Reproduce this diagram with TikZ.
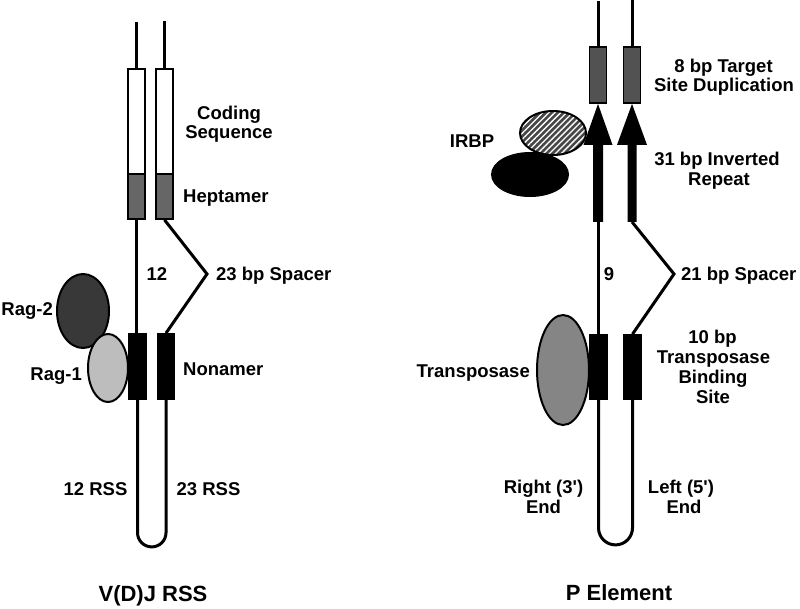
\documentclass[tikz,border=0pt]{standalone}
\usepackage{fontspec}
\setmainfont{Liberation Sans}
\usetikzlibrary{shapes.geometric,patterns.meta}
\definecolor{hept}{gray}{0.40}
\definecolor{tsd}{gray}{0.32}
\definecolor{ragtwo}{gray}{0.22}
\definecolor{ragone}{gray}{0.74}
\definecolor{transp}{gray}{0.52}
\definecolor{irbp}{gray}{0.28}
\begin{document}
\begin{tikzpicture}[x=1pt,y=-1pt,
  strand/.style={line width=3pt},
  seg/.style={draw, line width=1.8pt, inner sep=0pt, minimum width=17pt},
  lbl/.style={font=\bfseries\fontsize{18.5}{20}\selectfont, inner sep=0pt, anchor=base},
  ttl/.style={font=\bfseries\fontsize{22}{24}\selectfont, inner sep=0pt, anchor=base},
  prot/.style={draw, ellipse, line width=2pt, inner sep=0pt},
]
\useasboundingbox[fill=white] (0,0) rectangle (800,608);

% ---------------- V(D)J RSS ----------------
\node[seg, fill=white, minimum height=105pt] (cL) at (136.5,121.5) {};
\node[seg, fill=hept, minimum height=45pt] (hL) at (136.5,196.5) {};
\node[seg, fill=white, minimum height=105pt] (cR) at (164.5,121.5) {};
\node[seg, fill=hept, minimum height=45pt] (hR) at (164.5,196.5) {};
\node[seg, fill=black, minimum height=65pt] (nL) at (137.5,366.5) {};
\node[seg, fill=black, minimum height=65pt] (nR) at (166,366.5) {};
\path (cL.north) ++(0,-46) coordinate (tL);
\path (cR.north) ++(0,-47) coordinate (tR);
\coordinate (sp1) at (207,274);

\draw[strand] (tL) -- (cL.north);
\draw[strand] (tR) -- (cR.north);
\draw[strand] (hL.south) -- (hL.south |- nL.north);
\draw[strand] (hR.south) -- (sp1) -- (nR.north);
\draw[strand] (nL.south) -- ++(0,132.75) arc(180:0:14.25) -- (nR.south);

\node[seg, fill=white, minimum height=105pt] at (cL) {};
\node[seg, fill=hept, minimum height=45pt] at (hL) {};
\node[seg, fill=white, minimum height=105pt] at (cR) {};
\node[seg, fill=hept, minimum height=45pt] at (hR) {};

\node[prot, fill=ragtwo, minimum width=52pt, minimum height=74pt] (rag2) at (83,311) {};
\node[prot, fill=ragone, minimum width=40pt, minimum height=68pt] (rag1) at (108,368) {};

\node[lbl] (lcs1) at (229,119) {Coding};
\node[lbl] (lcs2) at (229,138) {Sequence};
\node[lbl, anchor=base west] (lhep) at (183,202) {Heptamer};
\node[lbl] (l12) at (157,280) {12};
\node[lbl, anchor=base west] (lsp23) at (216,280) {23 bp Spacer};
\node[lbl, anchor=base west] (lnon) at (183,375) {Nonamer};
\node[lbl, anchor=base east] (lrag2) at (53,315) {Rag-2};
\node[lbl, anchor=base east] (lrag1) at (82,380) {Rag-1};
\node[lbl] (l12rss) at (95.5,495) {12 RSS};
\node[lbl] (l23rss) at (208.5,495) {23 RSS};
\node[ttl] (tvdj) at (153,601) {V(D)J RSS};

% ---------------- P Element ----------------
\node[seg, fill=tsd, minimum height=56pt] (dL) at (598,75) {};
\node[seg, fill=tsd, minimum height=56pt] (dR) at (632,75) {};
\node[seg, fill=black, minimum height=64pt] (bL) at (598.5,367) {};
\node[seg, fill=black, minimum height=64pt] (bR) at (632.5,367) {};
\path (dL.north) ++(0,-45) coordinate (tL2);
\path (dR.north) ++(0,-47) coordinate (tR2);
\path (dL.south) ++(0,118) coordinate (aL);
\path (dR.south) ++(0,118) coordinate (aR);
\coordinate (sp2) at (674,274);

\draw[strand] (tL2) -- (dL.north);
\draw[strand] (tR2) -- (dR.north);
\draw[strand] (aL) -- (aL |- bL.north);
\draw[strand] (aR) -- (sp2) -- (bR.north);
\draw[strand] (bL.south) -- ++(0,128) arc(180:0:17) -- (bR.south);

\node[prot, preaction={fill=irbp}, pattern={Lines[angle=45,distance=4.2pt,line width=1.3pt]}, pattern color=white,
      minimum width=66pt, minimum height=44pt] (irbp) at (553,133) {};
\node[prot, fill=black, minimum width=76pt, minimum height=43pt] (blk) at (530,174.5) {};
\node[prot, fill=transp, minimum width=52pt, minimum height=110pt] (trp) at (563,370) {};

\fill (dL.south) -- ++(14.5,41) -- ++(-9.5,0) -- ++(0,77) -- ++(-10,0) -- ++(0,-77) -- ++(-9.5,0) -- cycle;
\fill (dR.south) -- ++(15,41) -- ++(-10.5,0) -- ++(0,77) -- ++(-9,0) -- ++(0,-77) -- ++(-10.5,0) -- cycle;

\node[seg, fill=tsd, minimum height=56pt] at (dL) {};
\node[seg, fill=tsd, minimum height=56pt] at (dR) {};
\node[seg, fill=black, minimum height=64pt] at (bL) {};
\node[seg, fill=black, minimum height=64pt] at (bR) {};

\node[lbl] (ltsd1) at (723.5,72) {8 bp Target};
\node[lbl] (ltsd2) at (724,91) {Site Duplication};
\node[lbl] (lirbp) at (472,147) {IRBP};
\node[lbl] (lir1) at (717,165) {31 bp Inverted};
\node[lbl] (lir2) at (719,185) {Repeat};
\node[lbl] (l9) at (609,280) {9};
\node[lbl, anchor=base west] (lsp21) at (681,280) {21 bp Spacer};
\node[lbl] (ltb1) at (712.5,343) {10 bp};
\node[lbl] (ltb2) at (713.5,363) {Transposase};
\node[lbl] (ltb3) at (713,383) {Binding};
\node[lbl] (ltb4) at (713,403) {Site};
\node[lbl, anchor=base east] (ltrp) at (530,377) {Transposase};
\node[lbl] (lre1) at (543.5,493) {Right (3\textquotesingle)};
\node[lbl] (lre2) at (543.5,513) {End};
\node[lbl] (lle1) at (681,493) {Left (5\textquotesingle)};
\node[lbl] (lle2) at (684,513) {End};
\node[ttl] (tpel) at (619,600) {P Element};
\end{tikzpicture}
\end{document}
